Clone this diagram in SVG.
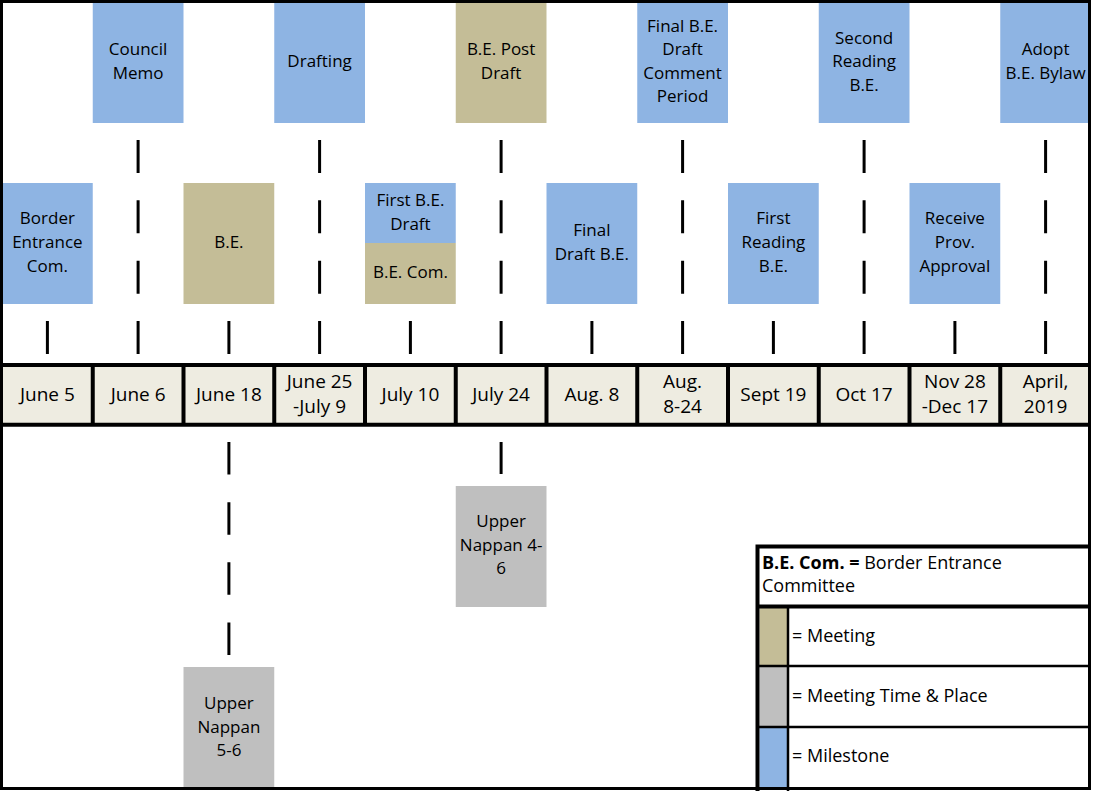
<svg xmlns="http://www.w3.org/2000/svg" width="1093" height="791" viewBox="0 0 1093 791">
<style>
text{font-family:"Open Sans","Noto Sans","Liberation Sans",sans-serif;font-size:17px;fill:#000;text-anchor:middle}
.ms{fill:#8EB4E3}
.mt{fill:#C4BD97}
.tp{fill:#BFBFBF}
.cell{fill:#EEECE1}
.tick{stroke:#000;stroke-width:3;fill:none}
.thick{stroke:#000;stroke-width:4;fill:none}
.thin{stroke:#000;stroke-width:2.5;fill:none}
.lg{text-anchor:start;font-size:18px}
.tl{font-size:19px}
</style>
<rect width="1093" height="791" fill="#fff"/>

<g id="connectors">
<path class="tick" d="M47.4 321V354" />
<path class="tick" d="M138.1 140V354" stroke-dasharray="33 27.33"/>
<path class="tick" d="M228.9 321V354" />
<path class="tick" d="M319.6 140V354" stroke-dasharray="33 27.33"/>
<path class="tick" d="M410.4 321V354" />
<path class="tick" d="M501.1 140V354" stroke-dasharray="33 27.33"/>
<path class="tick" d="M591.9 321V354" />
<path class="tick" d="M682.6 140V354" stroke-dasharray="33 27.33"/>
<path class="tick" d="M773.4 321V354" />
<path class="tick" d="M864.1 140V354" stroke-dasharray="33 27.33"/>
<path class="tick" d="M954.9 321V354" />
<path class="tick" d="M1045.6 140V354" stroke-dasharray="33 27.33"/>
<path class="tick" d="M228.9 442V655" stroke-dasharray="32.5 27.67"/>
<path class="tick" d="M501.1 442V474" />
</g>

<g id="n-council-memo"><rect class="ms" x="92.75" y="3" width="90.75" height="120"/>
<text x="138.1" y="55.25">Council</text><text x="138.1" y="78.75">Memo</text></g>
<g id="n-drafting"><rect class="ms" x="274.25" y="3" width="90.75" height="120"/>
<text x="319.6" y="67">Drafting</text></g>
<g id="n-be-post-draft"><rect class="mt" x="455.75" y="3" width="90.75" height="120"/>
<text x="501.1" y="55.25">B.E. Post</text><text x="501.1" y="78.75">Draft</text></g>
<g id="n-final-comment"><rect class="ms" x="637.25" y="3" width="90.75" height="120"/>
<text x="682.6" y="31.75">Final B.E.</text><text x="682.6" y="55.25">Draft</text><text x="682.6" y="78.75">Comment</text><text x="682.6" y="102.25">Period</text></g>
<g id="n-second-reading"><rect class="ms" x="818.75" y="3" width="90.75" height="120"/>
<text x="864.1" y="43.5">Second</text><text x="864.1" y="67">Reading</text><text x="864.1" y="90.5">B.E.</text></g>
<g id="n-adopt"><rect class="ms" x="1000.25" y="3" width="90.75" height="120"/>
<text x="1045.6" y="55.25">Adopt</text><text x="1045.6" y="78.75">B.E. Bylaw</text></g>

<g id="n-border-entrance"><rect class="ms" x="2" y="183" width="90.75" height="121"/>
<text x="47.4" y="224">Border</text><text x="47.4" y="248">Entrance</text><text x="47.4" y="272">Com.</text></g>
<g id="n-be"><rect class="mt" x="183.5" y="183" width="90.75" height="121"/>
<text x="228.9" y="248">B.E.</text></g>
<g id="n-first-draft"><rect class="ms" x="365" y="183" width="90.75" height="60"/>
<rect class="mt" x="365" y="243" width="90.75" height="61"/>
<text x="410.4" y="206">First B.E.</text><text x="410.4" y="230">Draft</text><text x="410.4" y="278">B.E. Com.</text></g>
<g id="n-final-draft"><rect class="ms" x="546.5" y="183" width="90.75" height="121"/>
<text x="591.9" y="236">Final</text><text x="591.9" y="260">Draft B.E.</text></g>
<g id="n-first-reading"><rect class="ms" x="728" y="183" width="90.75" height="121"/>
<text x="773.4" y="224">First</text><text x="773.4" y="248">Reading</text><text x="773.4" y="272">B.E.</text></g>
<g id="n-receive"><rect class="ms" x="909.5" y="183" width="90.75" height="121"/>
<text x="954.9" y="224">Receive</text><text x="954.9" y="248">Prov.</text><text x="954.9" y="272">Approval</text></g>

<g id="n-upper-nappan-46"><rect class="tp" x="455.75" y="486" width="90.75" height="121"/>
<text x="501.1" y="527">Upper</text><text x="501.1" y="551">Nappan 4-</text><text x="501.1" y="574">6</text></g>
<g id="n-upper-nappan-56"><rect class="tp" x="183.5" y="667" width="90.75" height="121"/>
<text x="228.9" y="709">Upper</text><text x="228.9" y="733">Nappan</text><text x="228.9" y="756">5-6</text></g>

<g id="timeline">
<rect class="cell" x="2" y="365" width="1089" height="60"/>
<path class="thick" d="M2 365H1091M2 424.7H1091"/>
<path class="thick" d="M92.75 365V425M183.5 365V425M274.25 365V425M365 365V425M455.75 365V425M546.5 365V425M637.25 365V425M728 365V425M818.75 365V425M909.5 365V425M1000.25 365V425"/>
<text class="tl" x="47.4" y="401">June 5</text>
<text class="tl" x="138.1" y="401">June 6</text>
<text class="tl" x="228.9" y="401">June 18</text>
<text class="tl" x="319.6" y="388">June 25</text><text class="tl" x="319.6" y="413">-July 9</text>
<text class="tl" x="410.4" y="401">July 10</text>
<text class="tl" x="501.1" y="401">July 24</text>
<text class="tl" x="591.9" y="401">Aug. 8</text>
<text class="tl" x="682.6" y="388">Aug.</text><text class="tl" x="682.6" y="413">8-24</text>
<text class="tl" x="773.4" y="401">Sept 19</text>
<text class="tl" x="864.1" y="401">Oct 17</text>
<text class="tl" x="954.9" y="388">Nov 28</text><text class="tl" x="954.9" y="413">-Dec 17</text>
<text class="tl" x="1045.6" y="388">April,</text><text class="tl" x="1045.6" y="413">2019</text>
</g>

<g id="legend">
<rect x="757.5" y="546.5" width="333" height="244" fill="#fff"/>
<rect class="mt" x="759.5" y="607.5" width="28" height="58"/>
<rect class="tp" x="759.5" y="667" width="28" height="59"/>
<rect class="ms" x="759.5" y="728" width="28" height="62"/>
<path class="thick" d="M757.5 546.5H1091M757.5 544.5V791"/>
<path class="thick" d="M757.5 606.5H1091" stroke-width="3"/>
<path class="thin" d="M757.5 666H1091M757.5 727H1091M788 606.5V791"/>
<text class="lg" x="762" y="569"><tspan font-weight="bold">B.E. Com. =</tspan> Border Entrance</text>
<text class="lg" x="762" y="592">Committee</text>
<text class="lg" x="792" y="642">= Meeting</text>
<text class="lg" x="792" y="702">= Meeting Time &amp; Place</text>
<text class="lg" x="792" y="762">= Milestone</text>
</g>

<rect x="1.5" y="1.5" width="1088" height="787" fill="none" stroke="#000" stroke-width="3"/>
</svg>
